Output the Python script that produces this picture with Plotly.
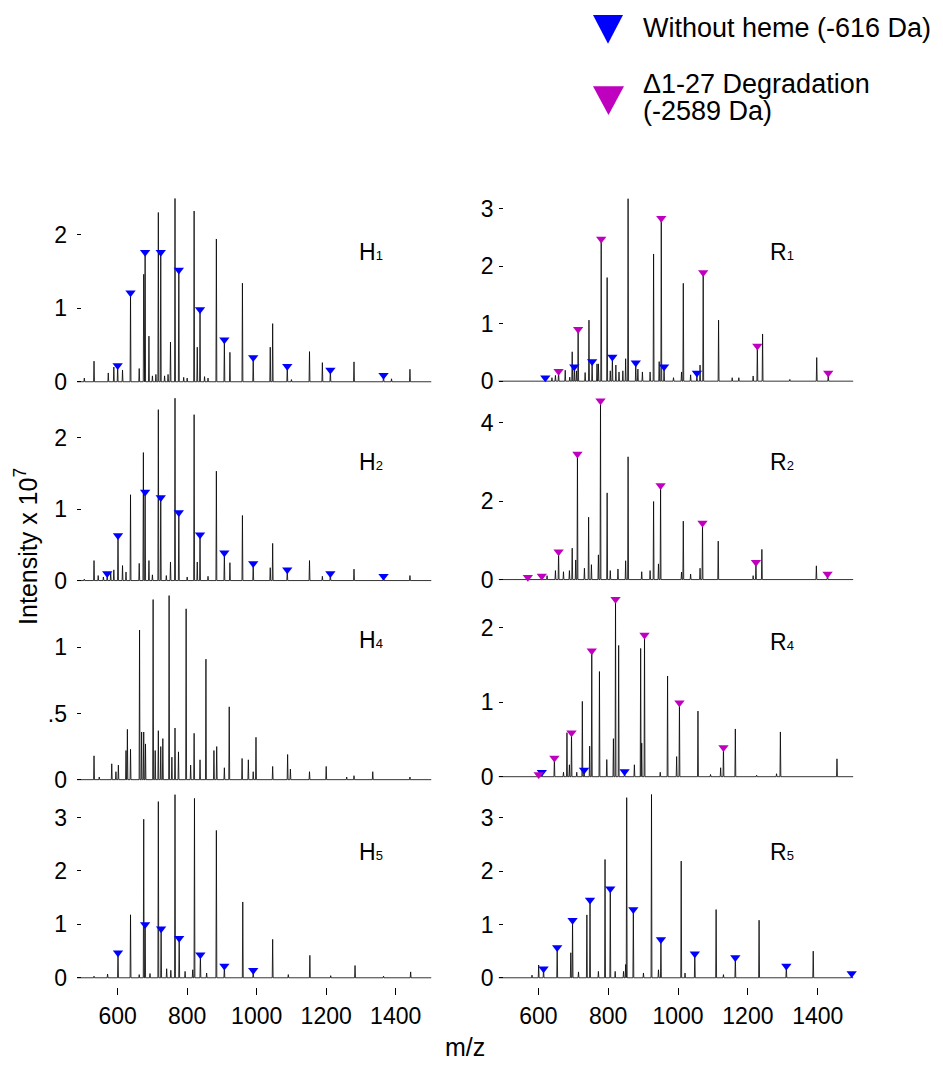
import plotly.graph_objects as go

# ---------------- data (m/z, intensity x 1e7) ----------------
H1_MZ = [504, 532, 573, 589, 600, 614, 637, 662, 675, 679, 690, 700, 710, 717, 724, 735, 745, 752, 765, 776,
         790, 800, 820, 829, 837, 850, 860, 884, 907, 923, 959, 990, 1039, 1046, 1088, 1100, 1152, 1189, 1212, 1280,
         1365, 1388, 1441]
H1_INT = [0.05, 0.28, 0.12, 0.20, 0.22, 0.16, 1.21, 0.18, 1.46, 1.76, 0.62, 0.08, 0.10, 2.30, 1.76, 0.08, 0.10, 0.54, 2.49, 1.52,
          0.06, 0.05, 2.32, 0.47, 0.98, 0.07, 0.05, 1.94, 0.57, 0.40, 1.34, 0.33, 0.47, 0.79, 0.21, 0.03, 0.41, 0.26, 0.16, 0.27,
          0.09, 0.04, 0.17]
H1_HEME = [600, 637, 679, 724, 776, 837, 907, 990, 1088, 1212, 1365]
H1_DEG = []

H2_MZ = [504, 532, 544, 559, 570, 580, 589, 601, 614, 624, 637, 662, 674, 679, 690, 700, 717, 724, 740, 752,
         765, 776, 800, 820, 829, 837, 860, 884, 907, 923, 959, 990, 1039, 1046, 1088, 1152, 1189, 1212, 1280, 1365,
         1441]
H2_INT = [0.02, 0.28, 0.07, 0.05, 0.10, 0.12, 0.15, 0.63, 0.21, 0.12, 1.20, 0.24, 1.79, 1.24, 0.28, 0.08, 2.39, 1.16, 0.07, 0.26,
          2.55, 0.95, 0.05, 2.32, 0.26, 0.64, 0.06, 1.53, 0.39, 0.25, 0.91, 0.24, 0.18, 0.52, 0.15, 0.28, 0.06, 0.10, 0.16, 0.06,
          0.07]
H2_HEME = [570, 601, 679, 724, 776, 837, 907, 990, 1088, 1212, 1365]
H2_DEG = []

H4_MZ = [532, 547, 583, 595, 602, 624, 628, 637, 663, 669, 675, 680, 702, 708, 717, 724, 730, 748, 756, 765,
         775, 797, 810, 820, 837, 854, 877, 885, 907, 921, 958, 976, 990, 998, 1046, 1089, 1097, 1152, 1200, 1259,
         1280, 1334, 1441]
H4_INT = [0.18, 0.02, 0.12, 0.06, 0.11, 0.22, 0.38, 0.23, 1.13, 0.36, 0.36, 0.27, 1.36, 0.22, 0.37, 0.25, 0.31, 1.39, 0.17, 0.39,
          0.21, 1.29, 0.11, 0.35, 0.15, 0.91, 0.22, 0.25, 0.09, 0.55, 0.16, 0.15, 0.06, 0.32, 0.10, 0.19, 0.08, 0.06, 0.10, 0.02,
          0.03, 0.06, 0.02]
H4_HEME = []
H4_DEG = []

H5_MZ = [532, 571, 601, 637, 662, 675, 679, 693, 717, 725, 741, 753, 765, 777, 794, 816, 821, 838, 856, 884,
         907, 960, 990, 1046, 1091, 1153, 1213, 1283, 1365, 1443]
H5_INT = [0.03, 0.07, 0.47, 1.18, 0.06, 2.97, 1.00, 0.08, 3.30, 0.92, 0.17, 0.14, 3.43, 0.74, 0.12, 0.15, 3.36, 0.43, 0.09, 2.76,
          0.22, 1.42, 0.14, 0.72, 0.06, 0.42, 0.04, 0.23, 0.03, 0.11]
H5_HEME = [601, 679, 725, 777, 838, 907, 990]
H5_DEG = []

R1_MZ = [620, 639, 649, 658, 677, 690, 697, 703, 709, 714, 734, 745, 754, 768, 772, 780, 797, 806, 812, 822,
         831, 842, 850, 857, 879, 885, 898, 920, 930, 946, 952, 960, 987, 1010, 1015, 1036, 1054, 1063, 1072, 1116,
         1155, 1174, 1215, 1227, 1242, 1320, 1397, 1430]
R1_INT = [0.06, 0.06, 0.10, 0.17, 0.19, 0.07, 0.51, 0.25, 0.18, 0.90, 0.15, 1.06, 0.34, 0.30, 0.30, 2.47, 1.80, 0.18, 0.42, 0.28,
          0.16, 0.18, 0.39, 3.17, 0.32, 0.21, 0.16, 0.16, 2.21, 0.34, 2.83, 0.25, 0.06, 0.16, 1.70, 0.11, 0.14, 0.28, 1.89, 1.06,
          0.06, 0.06, 0.09, 0.61, 0.82, 0.03, 0.41, 0.14]
R1_HEME = [620, 703, 754, 812, 879, 960, 1054]
R1_DEG = [658, 714, 780, 952, 1072, 1227, 1430]

R2_MZ = [570, 610, 625, 649, 658, 672, 689, 697, 707, 712, 732, 744, 752, 772, 778, 797, 806, 828, 850, 857,
         896, 920, 930, 944, 950, 1010, 1015, 1036, 1063, 1070, 1115, 1215, 1223, 1240, 1396, 1428]
R2_INT = [0.06, 0.09, 0.10, 0.23, 0.71, 0.20, 0.23, 0.80, 0.50, 3.20, 0.29, 1.59, 0.38, 0.63, 4.56, 2.21, 0.23, 0.27, 0.48, 3.13,
          0.20, 0.23, 1.99, 0.40, 2.40, 0.19, 1.49, 0.14, 0.29, 1.44, 0.98, 0.10, 0.44, 0.77, 0.35, 0.14]
R2_HEME = []
R2_DEG = [570, 610, 658, 712, 778, 950, 1070, 1223, 1428]

R4_MZ = [601, 610, 646, 672, 682, 689, 695, 710, 726, 731, 747, 753, 775, 796, 815, 821, 830, 847, 875, 893,
         896, 904, 949, 970, 996, 1004, 1057, 1093, 1122, 1130, 1164, 1225, 1282, 1293, 1455]
R4_INT = [0.03, 0.06, 0.25, 0.06, 0.59, 0.16, 0.59, 0.06, 1.01, 0.09, 0.41, 1.69, 1.41, 0.23, 0.51, 2.38, 1.76, 0.07, 0.16, 1.72,
          0.45, 1.90, 0.06, 1.35, 0.27, 0.99, 0.88, 0.03, 0.12, 0.39, 0.64, 0.02, 0.04, 0.60, 0.24]
R4_HEME = [610, 731, 847]
R4_DEG = [601, 646, 695, 753, 821, 904, 1004, 1130]

R5_MZ = [582, 601, 615, 654, 693, 698, 715, 739, 748, 772, 791, 806, 820, 844, 850, 853, 872, 901, 924, 944,
         951, 1009, 1020, 1048, 1109, 1130, 1164, 1232, 1310, 1387, 1497]
R5_INT = [0.05, 0.24, 0.17, 0.57, 0.47, 1.08, 0.11, 1.18, 1.46, 0.12, 2.22, 1.67, 0.12, 0.12, 0.25, 3.38, 1.28, 0.09, 3.44, 0.15,
          0.72, 2.19, 0.09, 0.45, 1.28, 0.06, 0.38, 1.08, 0.22, 0.50, 0.08]
R5_HEME = [615, 654, 698, 748, 806, 872, 951, 1048, 1164, 1310, 1497]
R5_DEG = []

X_TICKS = [600, 800, 1000, 1200, 1400]

LEGEND_HEME = "Without heme (-616 Da)"
LEGEND_DEG_1 = "\u03941-27 Degradation"
LEGEND_DEG_2 = "(-2589 Da)"
Y_TITLE = "Intensity x 10<sup>7</sup>"
X_TITLE = "m/z"

# ---------------- layout helpers ----------------
# the page body has an 8 px margin, so the figure is drawn 8 px in from the
# top-left corner; the figure is sized to fill the rest of the window.
OFF = 8
W, H = 943 - OFF, 1069 - OFF
FONT = "Arial, Liberation Sans, Helvetica, sans-serif"
BLUE = "#0000FF"
MAGENTA = "#BF00BF"


def px_x(p):
    return (p - OFF) / W


def px_y(p):
    return 1 - (p - OFF) / H


# column geometry: (x range, left px, right px)
COLS = {
    "L": dict(rng=[483, 1503], px=[77.0, 431.5], standoff=9),
    "R": dict(rng=[486, 1502], px=[498.5, 853.4], standoff=4),
}

PANELS = [
    # name, sub, column, mz, int, heme, deg, y0px, unitpx, lo, hi, tickvals, ticktext, label y px, bottom
    ("H", "1", "L", H1_MZ, H1_INT, H1_HEME, H1_DEG, 384.3, 74.3, -0.06, 2.52, [0, 1, 2], ["0", "1", "2"], 253, False),
    ("R", "1", "R", R1_MZ, R1_INT, R1_HEME, R1_DEG, 383.7, 58.1, -0.08, 3.20, [0, 1, 2, 3], ["0", "1", "2", "3"], 253, False),
    ("H", "2", "L", H2_MZ, H2_INT, H2_HEME, H2_DEG, 585.0, 72.2, -0.06, 2.58, [0, 1, 2], ["0", "1", "2"], 465, False),
    ("R", "2", "R", R2_MZ, R2_INT, R2_HEME, R2_DEG, 584.0, 39.6, -0.10, 4.62, [0, 2, 4], ["0", "2", "4"], 465, False),
    ("H", "4", "L", H4_MZ, H4_INT, H4_HEME, H4_DEG, 786.0, 133.7, -0.03, 1.41, [0, 0.5, 1], ["0", ".5", "1"], 645, False),
    ("R", "4", "R", R4_MZ, R4_INT, R4_HEME, R4_DEG, 783.0, 75.3, -0.06, 2.42, [0, 1, 2], ["0", "1", "2"], 647, False),
    ("H", "5", "L", H5_MZ, H5_INT, H5_HEME, H5_DEG, 986.0, 53.9, -0.167, 3.46, [0, 1, 2, 3], ["0", "1", "2", "3"], 859, True),
    ("R", "5", "R", R5_MZ, R5_INT, R5_HEME, R5_DEG, 986.0, 53.8, -0.167, 3.47, [0, 1, 2, 3], ["0", "1", "2", "3"], 859, True),
]

STICK_HALF_WIDTH = 1.3

fig = go.Figure()
annotations = []

for i, (name, sub, col, mz, inten, heme, deg, y0px, unitpx, lo, hi, tv, tt, lab_y, bottom) in enumerate(PANELS):
    k = "" if i == 0 else str(i + 1)
    xa, ya = "x" + k, "y" + k
    c = COLS[col]

    # spectrum as stick peaks drawn by the library
    pairs = sorted(zip(mz, inten))
    xs, ys = [c["rng"][0]], [0]
    for m, v in pairs:
        xs += [m - STICK_HALF_WIDTH, m, m + STICK_HALF_WIDTH]
        ys += [0, v, 0]
    xs.append(c["rng"][1])
    ys.append(0)
    fig.add_trace(go.Scatter(x=xs, y=ys, mode="lines", xaxis=xa, yaxis=ya,
                             line=dict(color="black", width=0.8), showlegend=False, hoverinfo="skip"))

    lookup = dict(zip(mz, inten))
    for marks, colr in ((heme, BLUE), (deg, MAGENTA)):
        if marks:
            fig.add_trace(go.Scatter(x=marks, y=[lookup[m] for m in marks], mode="markers",
                                     xaxis=xa, yaxis=ya, cliponaxis=False, showlegend=False,
                                     marker=dict(symbol="triangle-down", size=9, color=colr, line=dict(width=0))))

    bottom_px = y0px - lo * unitpx
    top_px = y0px - hi * unitpx
    ydom = [px_y(bottom_px), px_y(top_px)]
    xdom = [px_x(c["px"][0]), px_x(c["px"][1])]

    fig.layout["xaxis" + k] = dict(
        domain=xdom, range=c["rng"], anchor=ya, showgrid=False, zeroline=False, showline=False,
        visible=bottom, tickvals=X_TICKS, ticks="outside", ticklen=7, tickwidth=1, tickcolor="black",
        tickfont=dict(family=FONT, size=23, color="black"), ticklabelstandoff=2,
    )
    fig.layout["yaxis" + k] = dict(
        domain=ydom, range=[lo, hi], anchor=xa, showgrid=False, zeroline=False, showline=False,
        tickvals=tv, ticktext=tt, ticks="inside", ticklen=4, tickwidth=1, tickcolor="black",
        tickfont=dict(family=FONT, size=23, color="black"), ticklabelstandoff=c["standoff"],
    )

    lab_x = 357 if col == "L" else 768
    annotations.append(dict(
        x=px_x(lab_x), y=px_y(lab_y), xref="paper", yref="paper", xanchor="left", yanchor="middle",
        text=f"{name}<span style='font-size:13px'>{sub}</span>", showarrow=False,
        font=dict(family=FONT, size=23, color="black"),
    ))

# axis titles
annotations.append(dict(x=px_x(26), y=px_y(551), xref="paper", yref="paper", text=Y_TITLE, textangle=-90,
                        showarrow=False, xanchor="center", yanchor="middle",
                        font=dict(family=FONT, size=25, color="black")))
annotations.append(dict(x=px_x(465), y=px_y(1056), xref="paper", yref="paper", text=X_TITLE,
                        showarrow=False, xanchor="center", yanchor="middle",
                        font=dict(family=FONT, size=25, color="black")))

# legend (drawn manually so the symbols can be large)
annotations.append(dict(x=px_x(641), y=px_y(27), xref="paper", yref="paper", text=LEGEND_HEME,
                        showarrow=False, xanchor="left", yanchor="middle",
                        font=dict(family=FONT, size=27, color="black")))
annotations.append(dict(x=px_x(641), y=px_y(84), xref="paper", yref="paper", text=LEGEND_DEG_1,
                        showarrow=False, xanchor="left", yanchor="middle",
                        font=dict(family=FONT, size=27, color="black")))
annotations.append(dict(x=px_x(641), y=px_y(111), xref="paper", yref="paper", text=LEGEND_DEG_2,
                        showarrow=False, xanchor="left", yanchor="middle",
                        font=dict(family=FONT, size=27, color="black")))


def tri(x0, x1, ytop, ybot):
    xm = (x0 + x1) / 2
    return (f"M {px_x(x0)} {px_y(ytop)} L {px_x(x1)} {px_y(ytop)} "
            f"L {px_x(xm)} {px_y(ybot)} Z")


shapes = [
    dict(type="path", xref="paper", yref="paper", path=tri(593, 623, 14, 43),
         fillcolor=BLUE, line=dict(width=0)),
    dict(type="path", xref="paper", yref="paper", path=tri(593, 624, 86, 115),
         fillcolor=MAGENTA, line=dict(width=0)),
]

fig.update_layout(
    width=W, height=H, margin=dict(l=0, r=0, t=0, b=0),
    paper_bgcolor="white", plot_bgcolor="white",
    annotations=annotations, shapes=shapes, showlegend=False,
    font=dict(family=FONT, color="black"),
)

fig.write_html("out.html")
